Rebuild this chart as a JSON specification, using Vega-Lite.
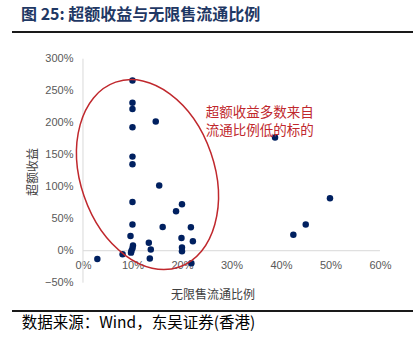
{
  "$schema": "https://vega.github.io/schema/vega-lite/v6.json",
  "width": 401,
  "height": 279,
  "autosize": {"type": "none"},
  "padding": {"left": 12, "top": 32, "right": 7, "bottom": 45},
  "background": "white",
  "title": {
    "text": "图 25: 超额收益与无限售流通比例",
    "anchor": "start",
    "dx": 10,
    "offset": 8,
    "fontSize": 16,
    "fontWeight": "bold",
    "color": "#1F3864",
    "font": "Noto Sans CJK SC"
  },
  "config": {
    "view": {"stroke": null},
    "axis": {"labelFont": "Liberation Sans", "titleFont": "Noto Sans CJK SC"}
  },
  "encoding": {
    "x": {
      "field": "x", "type": "quantitative",
      "scale": {"domain": [-0.1434, 0.6667], "nice": false, "zero": false},
      "axis": {
        "values": [0, 0.1, 0.2, 0.3, 0.4, 0.5, 0.6],
        "format": ".0%",
        "offset": -60,
        "domain": false, "ticks": false, "grid": false,
        "labelPadding": 8, "labelFontSize": 11, "labelColor": "#595959",
        "title": "无限售流通比例", "titleFontSize": 12, "titleFontWeight": "normal",
        "titleColor": "#404040", "titlePadding": 19
      }
    },
    "y": {
      "field": "y", "type": "quantitative",
      "scale": {"domain": [-0.942, 3.417], "nice": false, "zero": false},
      "axis": {
        "values": [-0.5, 0, 0.5, 1, 1.5, 2, 2.5, 3],
        "format": ".0%",
        "offset": -71,
        "domain": false, "ticks": false, "grid": false,
        "labelPadding": 10, "labelFontSize": 11, "labelColor": "#595959",
        "title": "超额收益", "titleFontSize": 12, "titleFontWeight": "normal",
        "titleColor": "#404040", "titlePadding": 5
      }
    }
  },
  "layer": [
    {
      "data": {"values": [{"x": 0, "x2": 0.6, "y": 0}]},
      "mark": {"type": "rule", "color": "#D9D9D9", "strokeWidth": 1},
      "encoding": {"x2": {"field": "x2"}}
    },
    {
      "data": {"values": [{"x": 0, "y": -0.5, "y2": 3}]},
      "mark": {"type": "rule", "color": "#D9D9D9", "strokeWidth": 1},
      "encoding": {"y2": {"field": "y2"}}
    },
    {
      "data": {"values": [
        {"x": -0.1434, "x2": 0.6667, "y": 3.417},
        {"x": -0.1434, "x2": 0.6667, "y": -0.942}
      ]},
      "mark": {"type": "rule", "color": "#1A1A1A", "strokeWidth": 2},
      "encoding": {"x2": {"field": "x2"}}
    },
    {
      "data": {"values": [
        {"x": 0.029, "y": -0.13},
        {"x": 0.080, "y": -0.056},
        {"x": 0.100, "y": 2.66},
        {"x": 0.100, "y": 2.31},
        {"x": 0.100, "y": 2.215},
        {"x": 0.100, "y": 1.93},
        {"x": 0.100, "y": 1.47},
        {"x": 0.100, "y": 1.35},
        {"x": 0.100, "y": 0.76},
        {"x": 0.100, "y": 0.41},
        {"x": 0.096, "y": 0.23},
        {"x": 0.101, "y": 0.08},
        {"x": 0.100, "y": 0.04},
        {"x": 0.098, "y": 0.00},
        {"x": 0.097, "y": -0.03},
        {"x": 0.147, "y": 2.02},
        {"x": 0.154, "y": 1.02},
        {"x": 0.161, "y": 0.37},
        {"x": 0.133, "y": 0.125},
        {"x": 0.137, "y": 0.02},
        {"x": 0.135, "y": -0.12},
        {"x": 0.188, "y": 0.615},
        {"x": 0.200, "y": 0.725},
        {"x": 0.218, "y": 0.365},
        {"x": 0.199, "y": 0.20},
        {"x": 0.222, "y": 0.146},
        {"x": 0.200, "y": 0.05},
        {"x": 0.200, "y": -0.01},
        {"x": 0.219, "y": -0.197},
        {"x": 0.388, "y": 1.77},
        {"x": 0.499, "y": 0.82},
        {"x": 0.450, "y": 0.41},
        {"x": 0.425, "y": 0.25}
      ]},
      "mark": {"type": "point", "filled": true, "size": 42, "color": "#002060", "opacity": 1}
    },
    {
      "data": {"values": [{"x": 0.1303, "y": 1.19}]},
      "mark": {
        "type": "point",
        "shape": "M -1 0 A 1 0.686 0 1 1 1 0 A 1 0.686 0 1 1 -1 0 Z",
        "size": 38180,
        "angle": 71,
        "filled": false,
        "stroke": "#C0282D",
        "strokeWidth": 1.5,
        "opacity": 1
      }
    },
    {
      "data": {"values": [{"x": 0.248, "y": 2.15, "label": "超额收益多数来自\n流通比例低的标的"}]},
      "mark": {
        "type": "text", "align": "left", "baseline": "middle",
        "lineBreak": "\n", "lineHeight": 18,
        "fontSize": 13.5, "font": "Noto Sans CJK SC", "color": "#C0282D"
      },
      "encoding": {"text": {"field": "label"}}
    },
    {
      "data": {"values": [{"x": -0.1238, "y": -1.13, "label": "数据来源：Wind，东吴证券(香港)"}]},
      "mark": {
        "type": "text", "align": "left", "baseline": "middle",
        "fontSize": 15.5, "font": "Noto Sans CJK SC", "color": "#000000"
      },
      "encoding": {"text": {"field": "label"}}
    }
  ]
}
